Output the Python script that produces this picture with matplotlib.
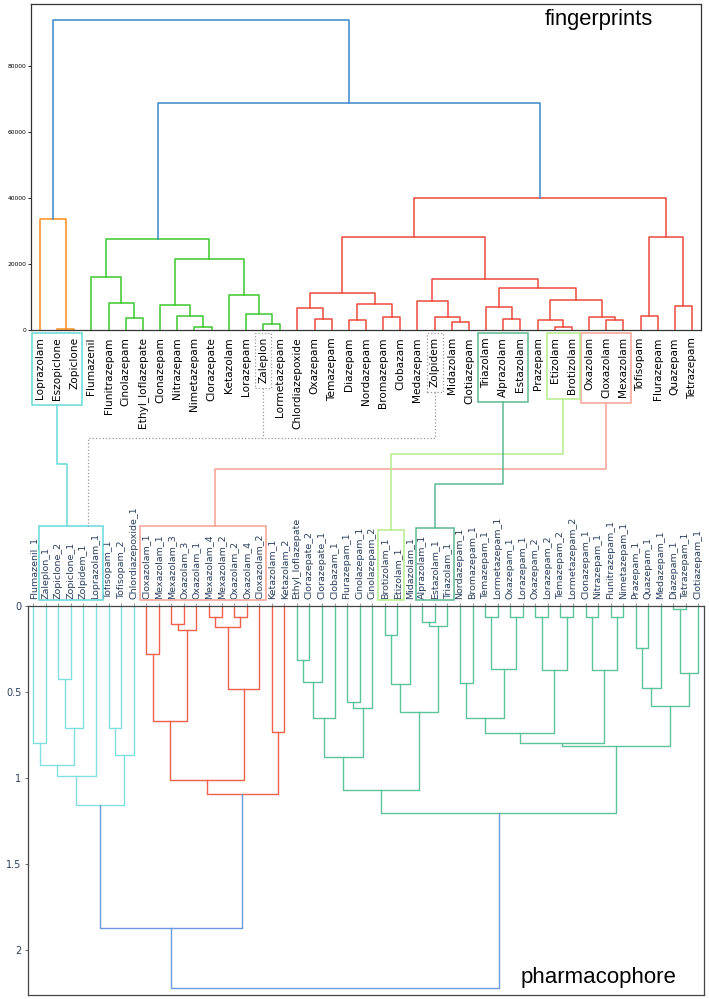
import matplotlib.pyplot as plt
from matplotlib.lines import Line2D
from matplotlib.patches import Rectangle

W, H = 709, 999

# ---- fingerprints dendrogram (top) : (left, right, height[, colour]) ----
fp_orange = ("Loprazolam", ("Eszopiclone", "Zopiclone", 300), 33800, "#ff8c1a")
fp_green_l = ("Flumazenil", ("Flunitrazepam", ("Cinolazepam", "Ethyl_loflazepate", 3820), 8180), 16060)
fp_green_r = (("Clonazepam", ("Nitrazepam", ("Nimetazepam", "Clorazepate", 900), 4240), 7570),
              ("Ketazolam", ("Lorazepam", ("Zaleplon", "Lormetazepam", 1820), 4850), 10790), 21700)
fp_green = (fp_green_l, fp_green_r, 27570, "#3cc82c")
fp_red_a = (("Chlordiazepoxide", ("Oxazepam", "Temazepam", 3420), 6760),
            (("Diazepam", "Nordazepam", 3120), ("Bromazepam", "Clobazam", 4120), 8060), 11300)
fp_red_b = (("Medazepam", ("Zolpidem", ("Midazolam", "Clotiazepam", 2610), 4120), 8970),
            (("Triazolam", ("Alprazolam", "Estazolam", 3420), 7060),
             (("Prazepam", ("Etizolam", "Brotizolam", 1000), 3120),
              ("Oxazolam", ("Cloxazolam", "Mexazolam", 3210), 4120), 9180), 12910), 15640)
fp_red_c = (("Tofisopam", "Flurazepam", 4240), ("Quazepam", "Tetrazepam", 7450), 28300)
fp_red = ((fp_red_a, fp_red_b, 28360), fp_red_c, 40090, "#ec4a3c")
fp_tree = (fp_orange, (fp_green, fp_red, 68960), 94100, "#3a88cc")

# ---- pharmacophore dendrogram (bottom) ----
ph_cyan = (((("Flumazenil_1", "Zaleplon_1", 0.80),
             (("Zopiclone_2", "Zopiclone_1", 0.428), "Zolpidem_1", 0.711), 0.928), "Loprazolam_1", 0.992),
           (("Tofisopam_1", "Tofisopam_2", 0.711), "Chlordiazepoxide_1", 0.868), 1.160, "#80e0e0")
ph_red = (((("Cloxazolam_1", "Mexazolam_1", 0.279),
            (("Mexazolam_3", "Oxazolam_3", 0.106), "Oxazolam_1", 0.139), 0.670),
           ((("Mexazolam_4", "Mexazolam_2", 0.064), ("Oxazolam_2", "Oxazolam_4", 0.064), 0.124),
            "Cloxazolam_2", 0.486), 1.013),
          ("Ketazolam_1", "Ketazolam_2", 0.734), 1.095, "#f0604a")
ph_green_a = ((((("Ethyl_loflazepate", "Clorazepate_2", 0.314), "Clorazepate_1", 0.442), "Clobazam_1", 0.655),
               (("Flurazepam_1", "Cinolazepam_1", 0.558), "Cinolazepam_2", 0.593), 0.882),
              ((("Brotizolam_1", "Etizolam_1", 0.170), "Midazolam_1", 0.457),
               (("Alprazolam_1", "Estazolam_1", 0.097), "Triazolam_1", 0.116), 0.620), 1.072)
ph_green_b = (((((("Nordazepam_1", "Bromazepam_1", 0.451),
                  (("Temazepam_1", "Lormetazepam_1", 0.064), ("Oxazepam_1", "Lorazepam_1", 0.064), 0.370), 0.651),
                 (("Oxazepam_2", "Lorazepam_2", 0.064), ("Temazepam_2", "Lormetazepam_2", 0.064), 0.376), 0.742),
                (("Clonazepam_1", "Nitrazepam_1", 0.064), ("Flunitrazepam_1", "Nimetazepam_1", 0.064), 0.374), 0.800),
               ((("Prazepam_1", "Quazepam_1", 0.244), "Medazepam_1", 0.477),
                (("Diazepam_1", "Tetrazepam_1", 0.019), "Clotiazepam_1", 0.393), 0.581), 0.816))
ph_green = (ph_green_a, ph_green_b, 1.205, "#5cc49a")
ph_tree = ((ph_cyan, ph_red, 1.876), ph_green, 2.223, "#6a9be0")

# links between label groups: top names, bottom names, colour, style, level (px), x-fraction on bottom box
links = [
    (["Loprazolam", "Eszopiclone", "Zopiclone"],
     ["Zaleplon_1", "Zopiclone_2", "Zopiclone_1", "Zolpidem_1", "Loprazolam_1"], "#66d9d9", "-", 463.7, 0.43),
    (["Oxazolam", "Cloxazolam", "Mexazolam"],
     ["Cloxazolam_1", "Mexazolam_1", "Mexazolam_3", "Oxazolam_3", "Oxazolam_1", "Mexazolam_4",
      "Mexazolam_2", "Oxazolam_2", "Oxazolam_4", "Cloxazolam_2"], "#f8a193", "-", 469.3, 0.6),
    (["Etizolam", "Brotizolam"], ["Brotizolam_1", "Etizolam_1"], "#b4ec8a", "-", 453.7, 0.5),
    (["Triazolam", "Alprazolam", "Estazolam"], ["Alprazolam_1", "Estazolam_1", "Triazolam_1"],
     "#5cb892", "-", 484.3, 0.5),
]
dotted = (["Zaleplon"], ["Zolpidem"], 437.5, 0.77)


def draw_tree(ax, node, colour, leaves, lw):
    if isinstance(node, str):
        leaves.append(node)
        return 5 + 10 * (len(leaves) - 1), 0.0
    if len(node) > 3:
        colour = node[3]
    xa, ha = draw_tree(ax, node[0], colour, leaves, lw)
    xb, hb = draw_tree(ax, node[1], colour, leaves, lw)
    ax.plot([xa, xa, xb, xb], [ha, node[2], node[2], hb], color=colour, lw=lw)
    return (xa + xb) / 2, node[2]


fig = plt.figure(figsize=(W / 100, H / 100), dpi=100)

# top
ax1 = fig.add_axes([31.4 / W, 1 - 330.3 / H, 669.2 / W, 326.3 / H])
top_leaves = []
draw_tree(ax1, fp_tree, "k", top_leaves, 1.1)
ax1.set_xlim(0, 10 * len(top_leaves))
ax1.set_ylim(0, 98900)
ax1.set_xticks([5 + 10 * i for i in range(len(top_leaves))], top_leaves, rotation=90, fontsize=7.6)
ax1.tick_params(axis="x", length=0, pad=5)
ax1.set_yticks([0, 20000, 40000, 60000, 80000])
ax1.tick_params(axis="y", labelsize=4.3, length=2, width=0.6, pad=1.5)
for s in ax1.spines.values():
    s.set_color("#333333")
    s.set_linewidth(0.9)
fig.text(545 / W, 1 - 9 / H, "fingerprints", fontsize=15.8, family="Liberation Sans",
         va="top", ha="left")

# bottom
ax2 = fig.add_axes([27.7 / W, 1 - 995 / H, 676.3 / W, 389.3 / H])
bot_leaves = []
draw_tree(ax2, ph_tree, "k", bot_leaves, 1.0)
ax2.set_xlim(0.54, 539.4)
ax2.set_ylim(2.263, 0)
ax2.xaxis.tick_top()
ax2.set_xticks([5 + 10 * i for i in range(len(bot_leaves))], bot_leaves, rotation=90, fontsize=6.8,
               color="#2a3f5f")
ax2.tick_params(axis="x", length=2.5, width=0.6, color="#888888", pad=2.5)
ax2.set_yticks([0, 0.5, 1, 1.5, 2], ["0", "0.5", "1", "1.5", "2"])
ax2.tick_params(axis="y", labelsize=7, labelcolor="#2a3f5f", length=2.5, width=0.6, color="#555555", pad=2)
for s in ax2.spines.values():
    s.set_color("#444444")
    s.set_linewidth(0.9)
fig.text(521 / W, 1 - 983 / H, "pharmacophore", fontsize=16, family="Liberation Sans",
         va="baseline", ha="left")

fig.canvas.draw()


def group_box(ax, names, padx, pady_top, pady_bot):
    labs = {t.get_text(): t for t in ax.get_xticklabels()}
    bbs = [labs[n].get_window_extent() for n in names]
    x0 = min(b.x0 for b in bbs) - padx
    x1 = max(b.x1 for b in bbs) + padx
    ytop = H - max(b.y1 for b in bbs) - pady_top
    ybot = H - min(b.y0 for b in bbs) + pady_bot
    return x0, x1, ytop, ybot


def rect(box, colour, ls, lw=1.1):
    x0, x1, ytop, ybot = box
    fig.add_artist(Rectangle((x0 / W, 1 - ybot / H), (x1 - x0) / W, (ybot - ytop) / H,
                             transform=fig.transFigure, fill=False, ec=colour, lw=lw, ls=ls))


def path(xs, ys, colour, ls, lw=1.1):
    fig.add_artist(Line2D([x / W for x in xs], [1 - y / H for y in ys], transform=fig.transFigure,
                          color=colour, lw=lw, ls=ls))


for top_names, bot_names, colour, ls, level, frac in links:
    tb = group_box(ax1, top_names, 3, 4, 5)
    bb = group_box(ax2, bot_names, 2, 7, 1)
    rect(tb, colour, ls)
    rect(bb, colour, ls)
    xt = (tb[0] + tb[1]) / 2
    xb = bb[0] + frac * (bb[1] - bb[0])
    path([xt, xt, xb, xb], [tb[3], level, level, bb[2]], colour, ls)

cyan_box = group_box(ax2, links[0][1], 2, 7, 1)
za = group_box(ax1, dotted[0], 3, 4, 5)
zo = group_box(ax1, dotted[1], 3, 4, 5)
rect(za, "#999999", ":", 0.9)
rect(zo, "#999999", ":", 0.9)
xd = cyan_box[0] + dotted[3] * (cyan_box[1] - cyan_box[0])
xa = (za[0] + za[1]) / 2
xz = (zo[0] + zo[1]) / 2
path([xa, xa], [za[3], dotted[2]], "#999999", ":", 0.9)
path([xz, xz, xd, xd], [zo[3], dotted[2], dotted[2], cyan_box[2]], "#999999", ":", 0.9)

fig.savefig("out.png", dpi=100)
